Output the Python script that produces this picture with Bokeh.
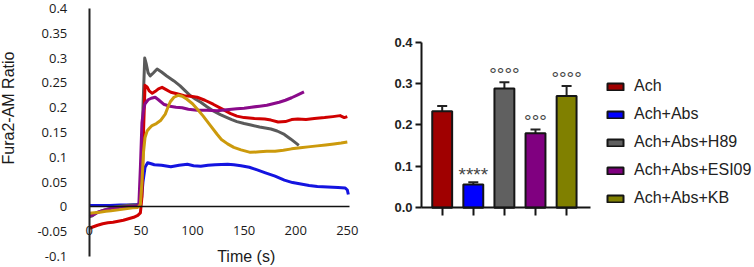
import math
from bokeh.plotting import figure
from bokeh.layouts import row
from bokeh.models import (ColumnDataSource, FixedTicker, CustomJSTickFormatter, Label,
                          Legend, LegendItem, Whisker, TeeHead, Range1d)
from bokeh.embed import file_html
from bokeh.resources import INLINE
from bokeh.core.properties import value

# ---------------- time-course data ----------------
ach_t = [0, 4, 8, 13, 18, 23, 28, 33, 38, 43, 47, 49.5, 51, 52.5, 54, 56, 58, 61, 64, 67,
         70.5, 74, 79, 85, 92, 98, 104.5, 112, 120, 128, 137, 143, 150, 160, 170, 176, 183,
         190, 196, 202, 210, 218, 228, 236, 243, 247, 250]
ach_y = [-0.043, -0.040, -0.037, -0.034, -0.032, -0.031, -0.029, -0.027, -0.024, -0.021,
         -0.017, -0.012, 0.02, 0.15, 0.245, 0.242, 0.234, 0.229, 0.233, 0.238,
         0.241, 0.237, 0.231, 0.228, 0.224, 0.223, 0.221, 0.215, 0.207, 0.198,
         0.188, 0.183, 0.180, 0.178, 0.177, 0.175, 0.171, 0.172, 0.176, 0.177,
         0.176, 0.178, 0.180, 0.182, 0.184, 0.180, 0.182]

abs_t = [0, 10, 20, 30, 40, 46, 49, 50.5, 52, 54, 56.5, 60, 63, 70, 79, 87, 95, 101, 108, 115,
         122, 134, 140, 147, 155, 162, 170, 180, 189, 197, 205, 213, 221, 231, 241, 248, 250, 251]
abs_y = [0.003, 0.003, 0.003, 0.004, 0.004, 0.005, 0.006, 0.015, 0.05, 0.08,
         0.089, 0.087, 0.085, 0.084, 0.081, 0.084, 0.086, 0.083, 0.082, 0.084,
         0.085, 0.086, 0.085, 0.083, 0.080, 0.075, 0.069, 0.062, 0.054, 0.049,
         0.046, 0.043, 0.041, 0.040, 0.039, 0.038, 0.034, 0.025]

h89_t = [0, 3, 7, 12, 18, 25, 32, 40, 46, 49, 50.5, 52, 53.7, 55, 57, 59, 62, 65.7, 70, 75,
         82, 88, 93, 98, 103, 108, 114, 120.6, 127, 133.5, 138, 143, 150, 156.6, 165, 176,
         182, 189, 195, 200, 203]
h89_y = [-0.020, -0.018, -0.012, -0.008, -0.004, 0.000, 0.002, 0.004, 0.004, 0.006,
         0.05, 0.2, 0.300, 0.290, 0.270, 0.264, 0.270, 0.278, 0.272, 0.264,
         0.254, 0.244, 0.234, 0.224, 0.217, 0.211, 0.202, 0.193, 0.186, 0.180,
         0.176, 0.172, 0.168, 0.165, 0.161, 0.157, 0.153, 0.146, 0.137, 0.129, 0.124]

esi_t = [0, 4, 9, 15, 22, 30, 38, 44, 48, 49.5, 51, 52.5, 54, 57, 60, 63.8, 67, 72, 78, 84,
         90, 96, 104.5, 114, 124, 133, 143, 150, 157, 165, 172, 178, 184, 190, 196, 202, 208]
esi_y = [-0.018, -0.016, -0.010, -0.006, -0.003, -0.001, 0.001, 0.002, 0.003, 0.08,
         0.17, 0.195, 0.208, 0.216, 0.219, 0.221, 0.216, 0.207, 0.203, 0.201,
         0.200, 0.197, 0.195, 0.195, 0.194, 0.196, 0.198, 0.199, 0.201, 0.203,
         0.205, 0.208, 0.211, 0.215, 0.220, 0.226, 0.232]

kb_t = [0, 5, 10, 16, 21, 28, 35, 42, 47, 49.5, 51, 52.5, 54, 56, 58, 60.8, 65, 69, 73.6, 76,
        78.5, 82, 86, 90, 94.6, 100, 104.3, 110, 117.4, 124, 128, 134, 140, 147, 156, 165,
        172, 180, 188, 196, 204.5, 212, 220.8, 229, 237, 244, 250]
kb_y = [-0.013, -0.012, -0.011, -0.009, -0.008, -0.006, -0.004, -0.002, -0.001, 0.005,
        0.05, 0.11, 0.14, 0.153, 0.158, 0.164, 0.168, 0.174, 0.187, 0.200,
        0.212, 0.221, 0.225, 0.223, 0.217, 0.208, 0.198, 0.184, 0.164, 0.146,
        0.136, 0.127, 0.120, 0.115, 0.110, 0.111, 0.112, 0.112, 0.114, 0.117,
        0.119, 0.121, 0.123, 0.125, 0.127, 0.129, 0.131]

left_x_ticks = [0, 50, 100, 150, 200, 250]
left_y_ticks = [-0.1, -0.05, 0, 0.05, 0.1, 0.15, 0.2, 0.25, 0.3, 0.35, 0.4]

# ---------------- bar data ----------------
groups = ["Ach", "Ach+Abs", "Ach+Abs+H89", "Ach+Abs+ESI09", "Ach+Abs+KB"]
bar_mean = [0.233, 0.056, 0.288, 0.180, 0.270]
bar_upper = [0.246, 0.062, 0.303, 0.189, 0.294]
bar_marks = ["", "****", "°°°°", "°°°", "°°°°"]
right_y_ticks = [0, 0.1, 0.2, 0.3, 0.4]

line_colors = ["#d00000", "#1414e0", "#5a5a5a", "#8a0a8a", "#cc9a0c"]
bar_colors = ["#a00000", "#0000ff", "#606060", "#800080", "#808000"]

# ================= left: time course =================
# the frame fills the whole figure; axes are pinned with fixed_location + bounds
p1 = figure(width=370, height=267, x_range=Range1d(-86.05, 272.47),
            y_range=Range1d(-0.1222, 0.4161),
            output_backend="svg", toolbar_location=None, min_border=0)
p1.outline_line_color = None
p1.xgrid.visible = False
p1.ygrid.visible = False

xa = p1.xaxis[0]
xa.fixed_location = 0
xa.bounds = (0, 252)
xa.ticker = FixedTicker(ticks=left_x_ticks)
xa.major_tick_line_color = None
xa.minor_tick_line_color = None
xa.axis_line_width = 1.5
xa.axis_line_color = "#111111"
xa.major_label_standoff = 13
xa.major_label_text_font = "Open Sans"
xa.major_label_text_font_size = "13px"
xa.major_label_text_color = "#1a1a1a"

ya = p1.yaxis[0]
ya.fixed_location = 0
ya.bounds = (-0.1, 0.4)
ya.ticker = FixedTicker(ticks=left_y_ticks)
ya.formatter = CustomJSTickFormatter(code="return String(Math.round(tick*100)/100);")
ya.major_tick_line_color = None
ya.minor_tick_line_color = None
ya.axis_line_width = 2
ya.axis_line_color = "#222222"
ya.major_label_standoff = 16
ya.major_label_text_font = "Open Sans"
ya.major_label_text_font_size = "13px"
ya.major_label_text_color = "#1a1a1a"

series = [(abs_t, abs_y, line_colors[1]), (h89_t, h89_y, line_colors[2]),
          (ach_t, ach_y, line_colors[0]), (esi_t, esi_y, line_colors[3]),
          (kb_t, kb_y, line_colors[4])]
for t, y, c in series:
    p1.line(t, y, line_color=c, line_width=3, line_join="round")

p1.add_layout(Label(x=-78.3, y=0.1994, text="Fura2-AM Ratio", angle=math.pi / 2,
                    text_align="center", text_baseline="middle", text_font="Liberation Sans",
                    text_font_size="16px", text_color="#1a1a1a"))
p1.add_layout(Label(x=152, y=-0.100, text="Time (s)", text_align="center",
                    text_baseline="middle", text_font="Liberation Sans",
                    text_font_size="16px", text_color="#1a1a1a"))

# ================= right: bars =================
bar_x = list(range(1, len(groups) + 1))
p2 = figure(width=384, height=267, x_range=Range1d(-1.3055, 11.042),
            y_range=Range1d(-0.1442, 0.5007),
            output_backend="svg", toolbar_location=None, min_border=0)
p2.outline_line_color = None
p2.xgrid.visible = False
p2.ygrid.visible = False

items = []
for xi, m, name, col in zip(bar_x, bar_mean, groups, bar_colors):
    r = p2.vbar(x=[xi], top=[m], width=0.64, fill_color=col, line_color="#151515", line_width=2)
    items.append(LegendItem(label=name, renderers=[r]))

err_src = ColumnDataSource(dict(x=bar_x, lower=bar_mean, upper=bar_upper))
p2.add_layout(Whisker(source=err_src, base="x", lower="lower", upper="upper",
                      line_color="#222222", line_width=2, lower_head=None,
                      upper_head=TeeHead(size=10, line_width=2, line_color="#222222")))

p2.text(x=bar_x, y=bar_upper, text=bar_marks, text_align="center", text_baseline="alphabetic",
        y_offset=-8, text_font=value("Liberation Sans"), text_font_size="19px",
        text_color="#444444")

ra_y = p2.yaxis[0]
ra_y.fixed_location = 0.3344
ra_y.bounds = (0, 0.4)
ra_y.ticker = FixedTicker(ticks=right_y_ticks)
ra_y.formatter = CustomJSTickFormatter(code="return tick.toFixed(1);")
ra_y.major_tick_out = 6
ra_y.major_tick_in = 0
ra_y.major_tick_line_width = 2
ra_y.minor_tick_line_color = None
ra_y.axis_line_width = 2
ra_y.axis_line_color = "#151515"
ra_y.major_tick_line_color = "#151515"
ra_y.major_label_standoff = 3
ra_y.major_label_text_font = "Liberation Sans"
ra_y.major_label_text_font_style = "bold"
ra_y.major_label_text_font_size = "13px"
ra_y.major_label_text_color = "#222222"

ra_x = p2.xaxis[0]
ra_x.fixed_location = 0
ra_x.bounds = (0.3344, 5.768)
ra_x.ticker = FixedTicker(ticks=bar_x)
ra_x.formatter = CustomJSTickFormatter(code="return '';")
ra_x.major_tick_out = 8
ra_x.major_tick_in = 0
ra_x.major_tick_line_width = 2
ra_x.minor_tick_line_color = None
ra_x.axis_line_width = 2
ra_x.axis_line_color = "#151515"
ra_x.major_tick_line_color = "#151515"

legend = Legend(items=items, location=(235, 59), glyph_width=20, glyph_height=9,
                label_height=20, spacing=8, padding=0, margin=0, label_standoff=9,
                border_line_color=None, background_fill_alpha=0,
                label_text_font="Liberation Sans", label_text_font_size="16px",
                label_text_baseline="alphabetic", label_text_color="#222222")
p2.add_layout(legend)

layout = row(p1, p2)
open("out.html", "w").write(file_html(layout, INLINE))
